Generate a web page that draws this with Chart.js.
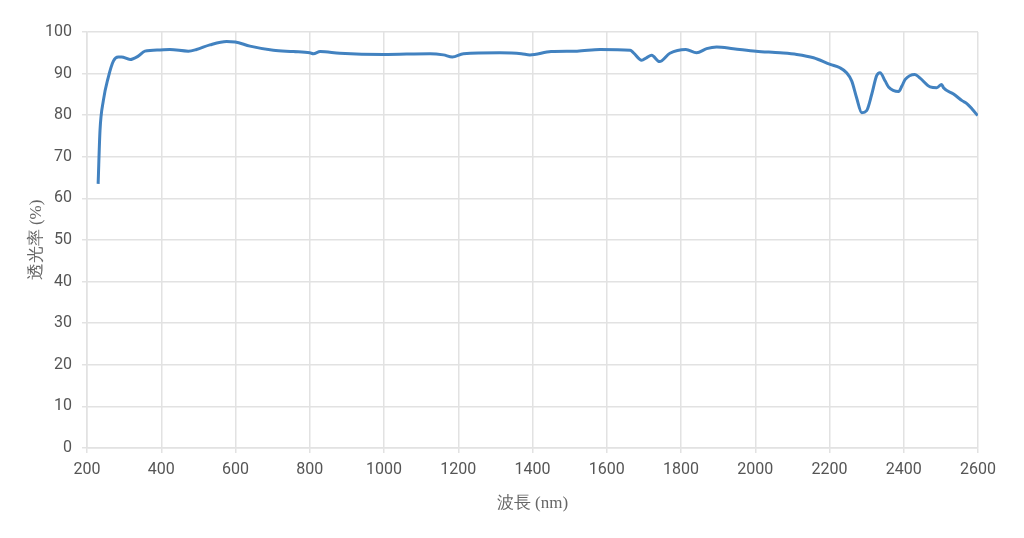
<!DOCTYPE html>
<html>
<head>
<meta charset="utf-8">
<script src="https://cdn.jsdelivr.net/npm/chart.js@4/dist/chart.umd.min.js"></script>
<style>
html,body{margin:0;padding:0;background:#fff;}
#wrap{width:1024px;height:538px;position:relative;}
</style>
</head>
<body>
<div id="wrap"><canvas id="c" width="1024" height="538"></canvas></div>
<script>
const wavelengths = [230,235,244,257,271,284,293,316,338,356,397,423,473,495,531,576,599,639,702,756,800,810,828,881,998,1124,1160,1184,1214,1312,1370,1393,1450,1520,1582,1663,1672,1694,1707,1721,1742,1770,1813,1842,1869,1896,1941,2002,2067,2112,2157,2202,2228,2246,2260,2273,2287,2300,2314,2327,2336,2350,2359,2386,2395,2404,2430,2444,2471,2489,2502,2507,2534,2557,2570,2584,2599];
const transmittance = [63.5,76.3,83.5,89.0,93.0,94.0,94.0,93.4,94.2,95.4,95.7,95.8,95.4,95.8,96.9,97.7,97.6,96.6,95.6,95.3,95.0,94.8,95.3,94.9,94.6,94.8,94.5,94.0,94.8,95.0,94.8,94.5,95.3,95.4,95.8,95.6,95.0,93.2,93.8,94.4,92.9,94.9,95.8,95.0,96.0,96.4,96.0,95.4,95.0,94.6,93.8,92.2,91.4,90.2,88.2,84.2,80.6,81.1,85.1,89.5,90.2,88.2,86.8,85.7,87.0,88.6,89.8,88.9,86.8,86.6,87.4,86.6,85.1,83.5,82.8,81.5,79.9];
const xTitle = '波長 (nm)';
const yTitle = '透光率 (%)';

const points = wavelengths.map((w,i)=>({x:w,y:transmittance[i]}));

new Chart(document.getElementById('c'), {
  type: 'line',
  data: { datasets: [{
    data: points,
    borderColor: 'rgb(66,130,192)',
    borderWidth: 3,
    pointRadius: 0,
    fill: false,
    cubicInterpolationMode: 'monotone'
  }]},
  options: {
    responsive: false,
    animation: false,
    layout: { padding: { left: 26, right: 46, top: 32, bottom: 20 } },
    plugins: { legend: { display: false }, tooltip: { enabled: false } },
    scales: {
      x: {
        type: 'linear', min: 200, max: 2600,
        ticks: { stepSize: 200, color: '#555', font: { family: 'Roboto', size: 16 }, padding: 7, maxRotation: 0,
                 callback: (v) => String(v) },
        grid: { color: '#e2e2e2', lineWidth: 1.5, tickLength: 5, drawTicks: true },
        border: { color: '#e2e2e2', width: 1.5 },
        title: { display: true, text: xTitle, color: '#666', font: { family: 'Liberation Serif', size: 17 }, padding: { top: 2 } },
        afterFit: (s) => { s.height = 70; }
      },
      y: {
        min: 0, max: 100,
        ticks: { stepSize: 10, color: '#555', font: { family: 'Roboto', size: 16 }, padding: 10 },
        grid: { color: '#e2e2e2', lineWidth: 1.5, tickLength: 5 },
        border: { color: '#e2e2e2', width: 1.5 },
        title: { display: true, text: yTitle, color: '#666', font: { family: 'Liberation Serif', size: 17 }, padding: 0 },
        afterFit: (s) => { s.width = 61; }
      }
    }
  }
});
</script>
</body>
</html>
